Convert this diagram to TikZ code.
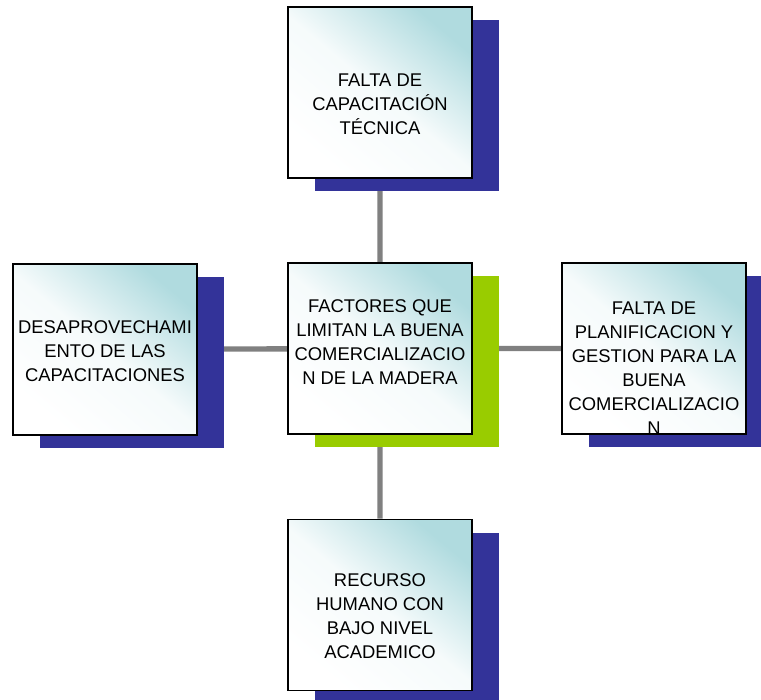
\documentclass[tikz,border=0pt]{standalone}
\usepackage{fontspec}
\setmainfont{Liberation Sans}
\usepackage{tikz}
\usetikzlibrary{shadows, backgrounds}
\definecolor{boxteal}{RGB}{176,219,223}
\definecolor{shadowblue}{RGB}{51,51,153}
\definecolor{shadowgreen}{RGB}{153,204,0}
\definecolor{linegray}{RGB}{128,128,128}
\tikzset{x=0.75pt, y=-0.75pt,
	box/.style={draw=black, line width=1.3pt, minimum width=138pt, minimum height=128.25pt, inner sep=0pt,
		top color=boxteal, bottom color=white, middle color=boxteal!12, shading angle=-40,
		general shadow={fill=#1, draw=none, shadow xshift=20.25pt, shadow yshift=-10pt}},
	box/.default=shadowblue,
	txt/.style={align=center, inner sep=0pt, font=\fontsize{13.8}{18}\selectfont},
	conn/.style={draw=linegray, line width=4pt}}

\begin{document}
\begin{tikzpicture}
	\useasboundingbox (0,0) rectangle (761,700);
	\node[box] at (380,92.5) (Capacitacion) {};
	\node[box=shadowgreen] at (380,348.5) (Factores) {};
	\node[box] at (654,348.5) (Planificacion) {};
	\node[box] at (105,349.5) (Desaprovechamiento) {};
	\node[box] at (380,605) (Recurso) {};
	\node[txt] at ([yshift=-8.6pt]Capacitacion.center) (Capacitacion text) {FALTA DE\\ CAPACITACIÓN\\ TÉCNICA};
	\node[txt] at ([yshift=4.9pt]Factores.center) (Factores text) {FACTORES QUE\\ LIMITAN LA BUENA\\ COMERCIALIZACIO\\ N DE LA MADERA};
	\node[txt] at ([yshift=-14.5pt]Planificacion.center) (Planificacion text) {FALTA DE\\ PLANIFICACION Y\\ GESTION PARA LA\\ BUENA\\ COMERCIALIZACIO\\ N};
	\node[txt] at ([yshift=-1pt]Desaprovechamiento.center) (Desaprovechamiento text) {DESAPROVECHAMI\\ ENTO DE LAS\\ CAPACITACIONES};
	\node[txt] at ([yshift=-8.3pt]Recurso.center) (Recurso text) {RECURSO\\ HUMANO CON\\ BAJO NIVEL\\ ACADEMICO};
	\begin{pgfonlayer}{background}
		\draw[conn]
			(Factores) -- (Capacitacion)
			(Factores) -- (Planificacion)
			(Factores) -- (Desaprovechamiento)
			(Factores) -- (Recurso);
	\end{pgfonlayer}
\end{tikzpicture}
\end{document}
